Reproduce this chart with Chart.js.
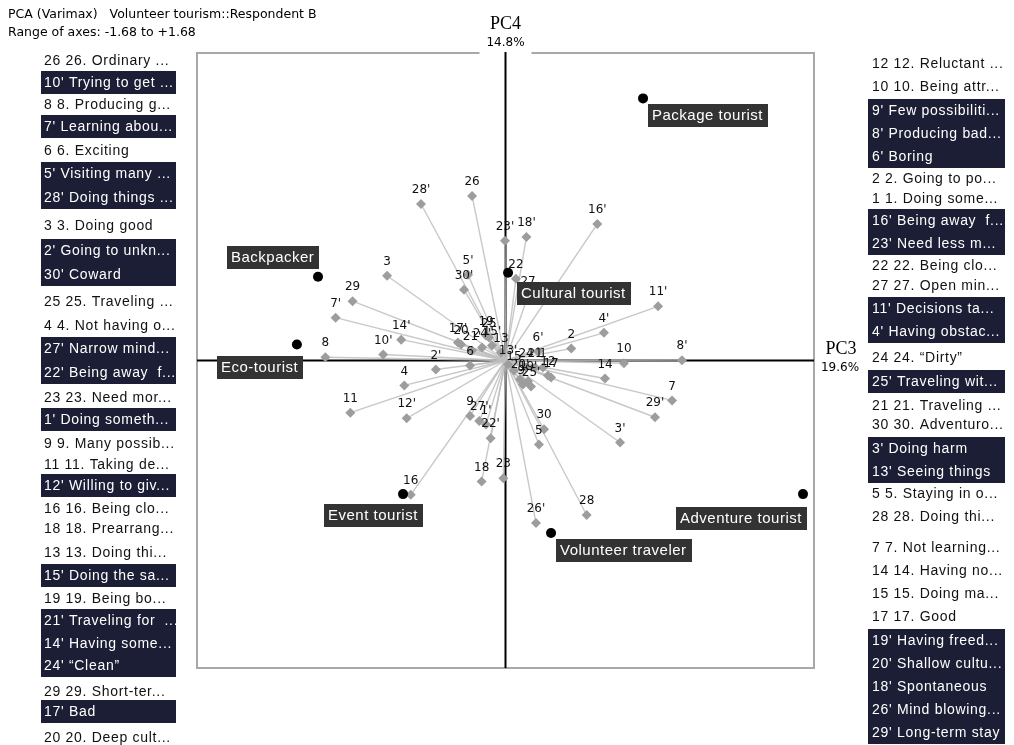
<!DOCTYPE html>
<html>
<head>
<meta charset="utf-8">
<script src="https://cdn.jsdelivr.net/npm/chart.js@4.4.1/dist/chart.umd.min.js"></script>
<style>
  html, body { margin: 0; padding: 0; background: #fff; overflow: hidden; }
  canvas { display: block; }
</style>
</head>
<body>
<canvas id="c" width="1014" height="745"></canvas>
<script>
// ---- Data ----
const titleLine1 = 'PCA (Varimax)   Volunteer tourism::Respondent B';
const titleLine2 = 'Range of axes: -1.68 to +1.68';
const axisRange = 1.68;
const xAxisName = 'PC3', xAxisShare = '19.6%';
const yAxisName = 'PC4', yAxisShare = '14.8%';

// construct poles (plain = emergent pole, primed = contrast pole)
const elementIds = [
  '1','2','3','4','5','6','7','8','9','10',
  '11','12','13','14','15','16','17','18','19','20',
  '21','22','23','24','25','26','27','28','29','30',
  "1'","2'","3'","4'","5'","6'","7'","8'","9'","10'",
  "11'","12'","13'","14'","15'","16'","17'","18'","19'","20'",
  "21'","22'","23'","24'","25'","26'","27'","28'","29'","30'"
];
const elementX = [
  0.204, 0.358, -0.645, -0.551, 0.182, -0.193, 0.907, -0.981, -0.193, 0.645,
  -0.845, 0.231, -0.025, 0.542, 0.046, -0.516, 0.248, -0.130, -0.106, -0.242,
  0.161, 0.057, -0.012, 0.112, -0.090, -0.182, 0.123, 0.442, -0.833, 0.210,
  -0.106, -0.379, 0.624, 0.536, -0.204, 0.177, -0.925, 0.961, 0.095, -0.666,
  0.831, -0.538, 0.014, -0.568, -0.074, 0.500, -0.259, 0.114, 0.123, 0.079,
  -0.182, -0.081, -0.003, -0.128, 0.139, 0.166, -0.143, -0.460, 0.814, -0.226
];
const elementY = [
  -0.038, 0.065, 0.463, -0.136, -0.459, -0.027, -0.218, 0.018, -0.303, -0.015,
  -0.285, -0.082, 0.044, -0.098, -0.054, -0.734, -0.093, -0.661, 0.136, 0.087,
  -0.038, 0.447, -0.643, -0.038, 0.125, 0.899, 0.354, -0.844, 0.324, -0.376,
  -0.349, -0.049, -0.448, 0.151, 0.468, 0.049, 0.234, 0.002, -0.131, 0.033,
  0.296, -0.316, -0.022, 0.114, 0.082, 0.746, 0.098, 0.675, -0.114, -0.103,
  0.054, -0.425, 0.654, 0.071, -0.142, -0.888, -0.331, 0.855, -0.310, 0.387
];

// tourist types
const typeNames = ['Package tourist', 'Backpacker', 'Eco-tourist', 'Cultural tourist',
                   'Event tourist', 'Volunteer traveler', 'Adventure tourist'];
const typeX = [0.749, -1.021, -1.136, 0.014, -0.558, 0.248, 1.620];
const typeY = [1.432, 0.458, 0.087, 0.479, -0.730, -0.942, -0.730];

// construct lists beside the plot
const leftLabels = [
  '26 26. Ordinary ...', "10' Trying to get ...", '8 8. Producing g...', "7' Learning abou...",
  '6 6. Exciting', "5' Visiting many ...", "28' Doing things ...", '3 3. Doing good',
  "2' Going to unkn...", "30' Coward", '25 25. Traveling ...', '4 4. Not having o...',
  "27' Narrow mind...", "22' Being away  f...", '23 23. Need mor...', "1' Doing someth...",
  '9 9. Many possib...', '11 11. Taking de...', "12' Willing to giv...", '16 16. Being clo...',
  '18 18. Prearrang...', '13 13. Doing thi...', "15' Doing the sa...", '19 19. Being bo...',
  "21' Traveling for  ...", "14' Having some...", "24' \u201cClean\u201d", '29 29. Short-ter...',
  "17' Bad", '20 20. Deep cult...'
];
const leftDark = [
  false, true, false, true, false, true, true, false, true, true,
  false, false, true, true, false, true, false, false, true, false,
  false, false, true, false, true, true, true, false, true, false
];
const rightLabels = [
  '12 12. Reluctant ...', '10 10. Being attr...', "9' Few possibiliti...", "8' Producing bad...",
  "6' Boring", '2 2. Going to po...', '1 1. Doing some...', "16' Being away  f...",
  "23' Need less m...", '22 22. Being clo...', '27 27. Open min...', "11' Decisions ta...",
  "4' Having obstac...", '24 24. \u201cDirty\u201d', "25' Traveling wit...", '21 21. Traveling ...',
  '30 30. Adventuro...', "3' Doing harm", "13' Seeing things", '5 5. Staying in o...',
  '28 28. Doing thi...', '7 7. Not learning...', '14 14. Having no...', '15 15. Doing ma...',
  '17 17. Good', "19' Having freed...", "20' Shallow cultu...", "18' Spontaneous",
  "26' Mind blowing...", "29' Long-term stay"
];
const rightDark = [
  false, false, true, true, true, false, false, true, true, false,
  false, true, true, false, true, false, false, true, true, false,
  false, false, false, false, false, true, true, true, true, true
];

// ---- Layout ----
const leftRowY = [60, 82, 104, 126, 150, 173, 197, 225, 250, 274, 301, 325, 348, 372, 397,
                  419, 443, 464, 485, 508, 528, 552, 575, 598, 620, 643, 665, 691, 711, 737];
const rightRowY = [63, 86, 110, 133, 156, 178, 198, 220, 243, 265, 285, 308, 331, 357, 381,
                   405, 424, 448, 471, 493, 516, 547, 570, 593, 616, 640, 663, 686, 709, 732];
const leftList = { boxLeft: 41, boxRight: 176, textX: 44 };
const rightList = { boxLeft: 868, boxRight: 1005, textX: 872 };
// name box placement relative to each type marker: anchor edge, x offset, top offset
const typeLabelPlacement = [
  { side: 'left', dx: 5, dy: 6 },
  { side: 'right', dx: 1, dy: -31 },
  { side: 'right', dx: 6, dy: 11 },
  { side: 'left', dx: 9, dy: 9 },
  { side: 'right', dx: 20, dy: 10 },
  { side: 'left', dx: 5, dy: 6 },
  { side: 'right', dx: 4, dy: 13 }
];

const DARK_ROW = '#1b1e35';
const NAME_BOX = '#333333';

const biplotPlugin = {
  id: 'biplot',
  beforeDatasetsDraw(chart) {
    const { ctx, chartArea: a, scales: { x, y } } = chart;
    const x0 = x.getPixelForValue(0), y0 = y.getPixelForValue(0);
    ctx.save();
    // frame
    ctx.strokeStyle = '#a8a8a8';
    ctx.lineWidth = 2;
    ctx.strokeRect(a.left, a.top, a.right - a.left, a.bottom - a.top);
    // clear the frame behind the vertical axis caption
    ctx.fillStyle = '#fff';
    ctx.fillRect(x0 - 26, a.top - 14, 52, 16);
    // axes through the origin
    ctx.strokeStyle = '#000';
    ctx.lineWidth = 2;
    ctx.beginPath();
    ctx.moveTo(x0, a.top - 1); ctx.lineTo(x0, a.bottom);
    ctx.moveTo(a.left, y0); ctx.lineTo(a.right, y0);
    ctx.stroke();
    // spokes from the origin to each construct pole
    ctx.strokeStyle = 'rgba(190,190,190,0.85)';
    ctx.lineWidth = 1.4;
    elementX.forEach((v, i) => {
      ctx.beginPath();
      ctx.moveTo(x0, y0);
      ctx.lineTo(x.getPixelForValue(v), y.getPixelForValue(elementY[i]));
      ctx.stroke();
    });
    ctx.restore();
  },
  afterDatasetsDraw(chart) {
    const { ctx, scales: { x, y } } = chart;
    ctx.save();
    // pole ids
    ctx.fillStyle = '#111';
    ctx.font = '12px "DejaVu Sans"';
    ctx.textAlign = 'center';
    ctx.textBaseline = 'middle';
    elementIds.forEach((id, i) => {
      ctx.fillText(id, x.getPixelForValue(elementX[i]), y.getPixelForValue(elementY[i]) - 14);
    });
    // tourist type name boxes
    ctx.font = '15px "Liberation Sans"';
    ctx.letterSpacing = '0.5px';
    ctx.textAlign = 'left';
    typeNames.forEach((name, i) => {
      const px = x.getPixelForValue(typeX[i]), py = y.getPixelForValue(typeY[i]);
      const p = typeLabelPlacement[i];
      const w = ctx.measureText(name).width + 9;
      const left = Math.round(p.side === 'left' ? px + p.dx : px + p.dx - w);
      const top = Math.round(py + p.dy);
      ctx.fillStyle = NAME_BOX;
      ctx.fillRect(left, top, Math.round(w), 23);
      ctx.fillStyle = '#fff';
      ctx.fillText(name, left + 4, top + 12);
    });
    ctx.restore();
  },
  afterDraw(chart) {
    const { ctx, chartArea: a, scales: { x, y } } = chart;
    const x0 = x.getPixelForValue(0), y0 = y.getPixelForValue(0);
    ctx.save();
    // titles
    ctx.fillStyle = '#000';
    ctx.font = '12.5px "DejaVu Sans"';
    ctx.textAlign = 'left';
    ctx.textBaseline = 'middle';
    ctx.fillText(titleLine1, 8, 15);
    ctx.fillText(titleLine2, 8, 33);
    // axis captions
    ctx.textAlign = 'center';
    ctx.font = '18px "Liberation Serif"';
    ctx.fillText(yAxisName, x0, 24);
    ctx.fillText(xAxisName, a.right + 27, y0 - 11);
    ctx.font = '12px "DejaVu Sans"';
    ctx.fillText(yAxisShare, x0, 43);
    ctx.fillText(xAxisShare, a.right + 26, y0 + 7);
    // side lists: consecutive highlighted rows share one box
    const drawList = (labels, dark, rows, cfg) => {
      ctx.fillStyle = DARK_ROW;
      let start = -1;
      for (let i = 0; i <= labels.length; i++) {
        const on = i < labels.length && dark[i] && (start < 0 || rows[i] - rows[i - 1] <= 24);
        if (on && start < 0) start = i;
        if (!on && start >= 0) {
          const top = Math.round(rows[start] - 11.5);
          const bottom = Math.round(rows[i - 1] + 11.5);
          ctx.fillRect(cfg.boxLeft, top, cfg.boxRight - cfg.boxLeft, bottom - top);
          start = (i < labels.length && dark[i]) ? i : -1;
        }
      }
      ctx.font = '14px "Liberation Sans"';
      ctx.letterSpacing = '0.7px';
      ctx.textAlign = 'left';
      labels.forEach((t, i) => {
        ctx.fillStyle = dark[i] ? '#fff' : '#111';
        ctx.fillText(t, cfg.textX, rows[i] + 1);
      });
    };
    drawList(leftLabels, leftDark, leftRowY, leftList);
    drawList(rightLabels, rightDark, rightRowY, rightList);
    ctx.restore();
  }
};

new Chart(document.getElementById('c'), {
  type: 'scatter',
  data: {
    datasets: [
      {
        label: 'Tourist types',
        data: typeX.map((v, i) => ({ x: v, y: typeY[i] })),
        pointStyle: 'circle',
        pointRadius: 5,
        backgroundColor: '#000',
        borderColor: '#000',
        borderWidth: 0
      },
      {
        label: 'Constructs',
        data: elementX.map((v, i) => ({ x: v, y: elementY[i] })),
        pointStyle: 'rectRot',
        pointRadius: 5,
        backgroundColor: '#9d9d9d',
        borderColor: '#9d9d9d',
        borderWidth: 0
      }
    ]
  },
  options: {
    responsive: false,
    animation: false,
    events: [],
    layout: { padding: { left: 197, right: 200, top: 53, bottom: 77 } },
    plugins: { legend: { display: false }, tooltip: { enabled: false } },
    scales: {
      x: { type: 'linear', min: -axisRange, max: axisRange, display: false },
      y: { type: 'linear', min: -axisRange, max: axisRange, display: false }
    }
  },
  plugins: [biplotPlugin]
});
</script>
</body>
</html>
